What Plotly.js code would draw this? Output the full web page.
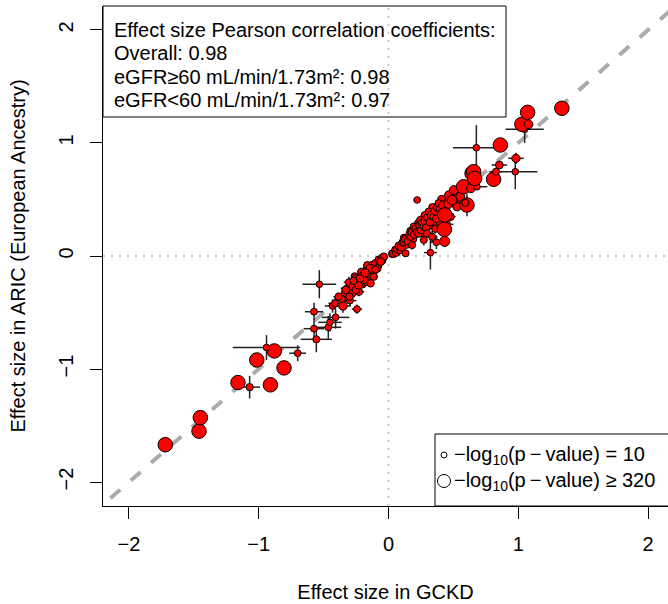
<!DOCTYPE html>
<html><head><meta charset="utf-8">
<script src="https://cdn.plot.ly/plotly-3.0.1.min.js"></script>
<style>html,body{margin:0;padding:0;overflow:hidden;background:#fff}</style>
</head><body><div id="chart" style="width:668px;height:604px"></div>
<script>
// Effect sizes (GCKD on x, ARIC European Ancestry on y), CI half-widths, -log10(p)
const gckd = [
 0.12,0.14,0.17,0.19,0.23,0.26,0.28,0.31,0.34,0.35,
 0.39,0.41,0.44,0.47,0.52,0.53,0.56,0.395,0.45,0.36,
 -0.08,-0.12,-0.16,-0.20,-0.24,-0.28,-0.31,-0.34,-0.05,-0.17,
 -0.21,-0.26,
 -1.72,-1.46,-1.45,-1.16,-1.07,-0.91,-1.015,-0.88,-0.805,-0.94,
 -0.70,-0.556,-0.574,-0.574,-0.533,-0.464,-0.451,-0.408,-0.431,-0.413,
 -0.351,-0.297,-0.243,-0.338,-0.318,-0.305,-0.267,-0.279,-0.228,-0.215,
 -0.177,-0.138,-0.202,-0.164,-0.126,-0.164,-0.126,-0.10,-0.074,-0.049,
 -0.036,-0.113,-0.087,-0.254,-0.19,-0.25,-0.30,-0.36,-0.33,-0.06,
 -0.14,-0.18,-0.22,-0.23,-0.10,-0.385,-0.27,
 0.03,0.041,0.054,0.06,0.07,0.092,0.08,0.10,0.11,0.118,
 0.131,0.13,0.15,0.16,0.169,0.182,0.18,0.195,0.20,0.21,
 0.22,0.233,0.24,0.246,0.25,0.26,0.272,0.272,0.28,0.29,
 0.297,0.30,0.31,0.32,0.33,0.336,0.349,0.36,0.37,0.38,
 0.387,0.40,0.41,0.42,0.451,0.46,0.477,0.50,0.528,0.554,
 0.464,0.503,0.221,0.323,0.369,0.431,0.433,0.433,0.49,0.579,
 0.605,0.592,0.644,0.656,0.636,0.682,0.656,0.664,0.81,0.828,
 0.854,0.982,0.977,0.862,0.677,1.049,1.028,1.079,1.072,1.336
];
const aric = [
 0.16,0.10,0.22,0.15,0.29,0.20,0.36,0.27,0.43,0.30,
 0.35,0.50,0.42,0.50,0.57,0.50,0.60,0.30,0.28,0.24,
 -0.08,-0.15,-0.19,-0.25,-0.24,-0.30,-0.33,-0.37,-0.04,-0.12,
 -0.14,-0.18,
 -1.67,-1.55,-1.43,-1.12,-1.16,-1.14,-0.92,-0.84,-0.99,-0.81,
 -0.86,-0.737,-0.643,-0.493,-0.25,-0.631,-0.587,-0.543,-0.442,-0.419,
 -0.442,-0.395,-0.47,-0.336,-0.286,-0.233,-0.271,-0.33,-0.316,-0.242,
 -0.227,-0.242,-0.177,-0.153,-0.124,-0.08,-0.08,-0.065,-0.035,-0.02,
 -0.006,-0.183,-0.109,-0.198,-0.21,-0.30,-0.36,-0.38,-0.30,-0.05,
 -0.11,-0.15,-0.20,-0.26,-0.12,-0.36,-0.22,
 0.02,0.024,0.053,0.03,0.06,0.053,0.09,0.08,0.12,0.127,
 0.024,0.15,0.13,0.18,0.171,0.097,0.21,0.26,0.19,0.24,
 0.21,0.20,0.27,0.319,0.23,0.29,0.26,0.142,0.31,0.25,
 0.20,0.34,0.392,0.30,0.36,0.171,0.348,0.40,0.33,0.43,
 0.466,0.407,0.37,0.45,0.377,0.46,0.348,0.49,0.436,0.525,
 0.54,0.584,0.496,0.03,0.121,0.236,0.363,0.13,0.496,0.613,
 0.451,0.47,0.731,0.643,0.599,0.613,0.746,0.687,0.679,0.746,
 0.805,0.864,0.746,0.982,0.958,1.121,1.165,1.165,1.271,1.307
];
const gckdCI = [
 0.02,0.03,0.03,0.03,0.03,0.03,0.03,0.03,0.03,0.03,
 0.03,0.03,0.03,0.03,0.03,0.04,0.03,0.04,0.05,0.04,
 0.02,0.02,0.03,0.03,0.03,0.03,0.04,0.04,0.02,0.02,
 0.03,0.03,
 0.02,0.02,0.02,0.04,0.08,0.02,0.02,0.02,0.02,0.26,
 0.065,0.12,0.08,0.07,0.13,0.10,0.09,0.106,0.06,0.05,
 0.06,0.05,0.04,0.04,0.05,0.04,0.03,0.04,0.04,0.03,
 0.03,0.03,0.03,0.02,0.02,0.03,0.02,0.02,0.02,0.02,
 0.02,0.03,0.02,0.03,0.03,0.03,0.04,0.04,0.03,0.02,
 0.02,0.02,0.03,0.03,0.02,0.04,0.03,
 0.02,0.02,0.02,0.02,0.02,0.02,0.02,0.02,0.02,0.02,
 0.03,0.02,0.03,0.03,0.03,0.03,0.03,0.03,0.03,0.03,
 0.03,0.03,0.03,0.03,0.03,0.03,0.03,0.03,0.03,0.03,
 0.04,0.03,0.03,0.03,0.03,0.04,0.03,0.03,0.03,0.03,
 0.03,0.03,0.03,0.03,0.04,0.03,0.04,0.03,0.04,0.03,
 0.03,0.03,0.03,0.05,0.05,0.04,0.03,0.04,0.03,0.03,
 0.03,0.04,0.03,0.03,0.03,0.08,0.03,0.03,0.04,0.05,
 0.06,0.06,0.17,0.02,0.18,0.147,0.02,0.02,0.03,0.02
];
const aricCI = [
 0.02,0.03,0.03,0.03,0.03,0.03,0.03,0.03,0.03,0.04,
 0.03,0.03,0.03,0.03,0.04,0.04,0.03,0.06,0.05,0.04,
 0.02,0.02,0.03,0.03,0.03,0.03,0.04,0.04,0.02,0.02,
 0.03,0.03,
 0.02,0.02,0.02,0.05,0.10,0.02,0.02,0.02,0.02,0.11,
 0.07,0.115,0.07,0.08,0.125,0.10,0.08,0.10,0.06,0.05,
 0.06,0.05,0.04,0.04,0.05,0.05,0.03,0.04,0.04,0.03,
 0.03,0.03,0.03,0.02,0.02,0.03,0.02,0.02,0.02,0.02,
 0.02,0.03,0.02,0.03,0.03,0.03,0.04,0.04,0.03,0.02,
 0.02,0.02,0.03,0.03,0.02,0.04,0.03,
 0.02,0.02,0.02,0.02,0.02,0.02,0.02,0.02,0.02,0.03,
 0.03,0.02,0.03,0.03,0.03,0.04,0.03,0.03,0.03,0.03,
 0.03,0.03,0.03,0.03,0.03,0.03,0.03,0.05,0.03,0.03,
 0.04,0.03,0.03,0.03,0.03,0.05,0.03,0.03,0.03,0.03,
 0.03,0.03,0.03,0.03,0.04,0.03,0.04,0.03,0.04,0.03,
 0.03,0.03,0.02,0.15,0.06,0.04,0.03,0.05,0.03,0.03,
 0.10,0.04,0.03,0.03,0.03,0.03,0.03,0.03,0.05,0.03,
 0.03,0.05,0.155,0.02,0.20,0.12,0.02,0.02,0.04,0.03
];
const negLog10P = [
 50,40,50,45,55,45,50,55,60,50,
 60,70,90,100,120,80,140,40,30,35,
 60,60,60,50,70,60,50,45,60,50,
 40,40,
 320,320,320,320,40,320,320,320,320,15,
 20,35,25,25,15,15,15,18,25,25,
 90,25,25,50,35,35,120,45,45,70,
 60,45,80,90,70,30,50,60,60,70,
 50,40,60,50,60,50,40,40,60,60,
 70,70,60,50,50,35,40,
 60,70,60,50,70,60,60,70,60,50,
 30,60,50,60,50,35,60,40,60,60,
 50,50,60,40,50,60,50,30,60,60,
 40,60,40,60,70,30,60,80,60,70,
 50,80,60,90,70,100,60,90,70,100,
 80,100,15,15,20,320,320,150,120,320,
 320,30,320,150,100,15,320,320,320,30,
 60,80,15,320,15,15,320,100,320,320
];
const tickVals = [-2,-1,0,1,2];
const tickText = ['\u22122','\u22121','0','1','2'];
const corrLines = [
 'Effect size Pearson correlation coefficients:',
 'Overall: 0.98',
 'eGFR\u226560 mL/min/1.73m\u00b2: 0.98',
 'eGFR<60 mL/min/1.73m\u00b2: 0.97'
];
const sizeLegend = [
 '\u2212log<sub>10</sub>(p\u2009\u2212\u2009value) = 10',
 '\u2212log<sub>10</sub>(p\u2009\u2212\u2009value) \u2265 320'
];

const F = 'Liberation Sans, Arial, Helvetica, sans-serif';
const FS = 20;
const PL = 103, PR = 668, PT = 6, PB = 506;
const px = v => (v - PL) / (PR - PL);
const py = v => (PB - v) / (PB - PT);
const sz = p => 6.5 + 8 * (Math.min(p, 320) - 10) / 310;

const trace = {
  type: 'scatter', mode: 'markers', x: gckd, y: aric,
  marker: {size: negLog10P.map(sz), color: '#FF0000', opacity: 1, line: {color: '#000', width: 1}},
  error_x: {type: 'data', array: gckdCI, visible: true, color: '#222', thickness: 1.5, width: 0},
  error_y: {type: 'data', array: aricCI, visible: true, color: '#222', thickness: 1.5, width: 0},
  hoverinfo: 'skip'
};

const legY = [455, 481];
const shapes = [
  {type:'line', xref:'x', yref:'paper', x0:0, x1:0, y0:0, y1:1, layer:'below',
   line:{color:'#CCCCCC', width:2, dash:'2px,6px'}},
  {type:'line', xref:'paper', yref:'y', x0:0, x1:1, y0:0, y1:0, layer:'below',
   line:{color:'#CCCCCC', width:2, dash:'2px,6px'}},
  {type:'line', xref:'x', yref:'y', x0:-2.3, y0:-2.3, x1:2.3, y1:2.3, layer:'below',
   line:{color:'#ABABAB', width:4, dash:'13px,14px'}},
  {type:'rect', xref:'paper', yref:'paper', x0:0, x1:px(506), y0:py(117), y1:1,
   line:{color:'#000', width:1}, fillcolor:'rgba(0,0,0,0)'},
  {type:'rect', xref:'paper', yref:'paper', x0:px(435), x1:1.05, y0:0, y1:py(434),
   line:{color:'#000', width:1}, fillcolor:'#fff'},
  {type:'circle', xref:'paper', yref:'paper', xsizemode:'pixel', ysizemode:'pixel',
   xanchor:px(444), yanchor:py(legY[0]), x0:-3, x1:3, y0:-3, y1:3, line:{color:'#000', width:1}},
  {type:'circle', xref:'paper', yref:'paper', xsizemode:'pixel', ysizemode:'pixel',
   xanchor:px(444), yanchor:py(legY[1]), x0:-6.5, x1:6.5, y0:-6.5, y1:6.5, line:{color:'#000', width:1}}
];

const annY = [30, 53, 77, 100];
const annotations = corrLines.map((t, i) => ({
  text: t, xref:'paper', yref:'paper', x: px(112), y: py(annY[i]), xanchor:'left', yanchor:'middle',
  showarrow:false, font:{family:F, size:FS, color:'#000'}
})).concat([{
  text: sizeLegend.join('<br>'), xref:'paper', yref:'paper', x: px(452), y: py((legY[0] + legY[1]) / 2),
  xanchor:'left', yanchor:'middle', align:'left',
  showarrow:false, font:{family:F, size:FS, color:'#000'}
}]);

const axisBase = {
  tickvals: tickVals, ticktext: tickText, ticks:'outside', ticklen:12, tickwidth:1, tickcolor:'#000',
  showline:true, linecolor:'#000', linewidth:1, showgrid:false, zeroline:false, automargin:false,
  tickfont:{family:F, size:FS, color:'#000'}
};

const layout = {
  width:668, height:604, margin:{l:PL, r:0, t:PT, b:604-PB},
  paper_bgcolor:'#fff', plot_bgcolor:'#fff', showlegend:false,
  font:{family:F, size:FS, color:'#000'},
  xaxis: Object.assign({}, axisBase, {range:[-2.2, 2.1538], ticklabelstandoff:8,
    title:{text:'Effect size in GCKD', standoff:30, font:{family:F, size:FS, color:'#000'}}}),
  yaxis: Object.assign({}, axisBase, {range:[-2.212, 2.212], tickangle:-90, ticklabelstandoff:9,
    title:{text:'Effect size in ARIC (European Ancestry)', standoff:24, font:{family:F, size:FS, color:'#000'}}}),
  shapes: shapes, annotations: annotations
};

Plotly.newPlot('chart', [trace], layout, {staticPlot:true, displayModeBar:false});
</script></body></html>
